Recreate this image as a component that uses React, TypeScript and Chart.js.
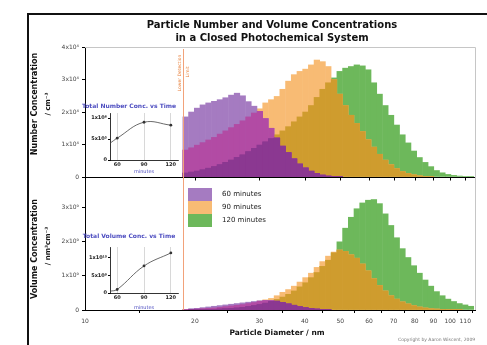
import React, { useEffect, useRef } from 'react';
import { Chart, registerables } from 'chart.js';

Chart.register(...registerables);

const FONT = 'DejaVu Sans';
Chart.defaults.font.family = FONT;

// ---- data ----
const seriesNames = ['60 minutes', '90 minutes', '120 minutes'];

const diameters = [18.87, 19.56, 20.28, 21.02, 21.79, 22.59, 23.42, 24.27, 25.16, 26.08, 27.04, 28.03, 29.06, 30.12, 31.22, 32.37, 33.55, 34.78, 36.06, 37.38, 38.75, 40.17, 41.64, 43.16, 44.74, 46.38, 48.08, 49.84, 51.67, 53.56, 55.52, 57.56, 59.67, 61.85, 64.12, 66.47, 68.9, 71.42, 74.04, 76.75, 79.56, 82.48, 85.5, 88.63, 91.88, 95.24, 98.73, 102.35, 106.1, 109.98, 114.01];

// number concentration, units of 1x10^4 cm^-3
const number60 = [1.85, 2.0, 2.12, 2.22, 2.28, 2.33, 2.38, 2.44, 2.52, 2.58, 2.5, 2.32, 2.18, 2.02, 1.8, 1.5, 1.2, 0.95, 0.75, 0.56, 0.4, 0.28, 0.18, 0.11, 0.06, 0.03, 0.02, 0.01, 0, 0, 0, 0, 0, 0, 0, 0, 0, 0, 0, 0, 0, 0, 0, 0, 0, 0, 0, 0, 0, 0, 0];
const number90 = [0.83, 0.9, 0.98, 1.06, 1.14, 1.22, 1.32, 1.42, 1.52, 1.62, 1.73, 1.85, 1.97, 2.1, 2.28, 2.38, 2.48, 2.7, 2.95, 3.15, 3.25, 3.32, 3.45, 3.6, 3.55, 3.4, 3.0, 2.55, 2.2, 1.9, 1.65, 1.4, 1.15, 0.92, 0.7, 0.52, 0.38, 0.26, 0.17, 0.11, 0.07, 0.04, 0.02, 0.01, 0, 0, 0, 0, 0, 0, 0];
const number120 = [0.12, 0.15, 0.18, 0.22, 0.27, 0.32, 0.38, 0.45, 0.52, 0.6, 0.68, 0.78, 0.88, 0.98, 1.08, 1.18, 1.3, 1.42, 1.55, 1.7, 1.85, 2.0, 2.2, 2.45, 2.7, 2.9, 3.05, 3.25, 3.35, 3.4, 3.45, 3.42, 3.3, 2.9, 2.55, 2.2, 1.9, 1.6, 1.3, 1.05, 0.8, 0.6, 0.45, 0.32, 0.2, 0.13, 0.08, 0.05, 0.03, 0.02, 0.01];

// volume concentration, units of 1x10^9 nm^3 cm^-3
const volume60 = [0.02, 0.04, 0.05, 0.07, 0.09, 0.11, 0.13, 0.15, 0.17, 0.19, 0.21, 0.23, 0.25, 0.27, 0.28, 0.28, 0.26, 0.22, 0.18, 0.14, 0.1, 0.07, 0.05, 0.03, 0.02, 0.01, 0, 0, 0, 0, 0, 0, 0, 0, 0, 0, 0, 0, 0, 0, 0, 0, 0, 0, 0, 0, 0, 0, 0, 0, 0];
const volume90 = [0.01, 0.02, 0.03, 0.04, 0.05, 0.06, 0.08, 0.1, 0.12, 0.14, 0.16, 0.19, 0.22, 0.26, 0.3, 0.34, 0.42, 0.52, 0.6, 0.7, 0.82, 0.95, 1.08, 1.25, 1.42, 1.58, 1.7, 1.76, 1.72, 1.62, 1.52, 1.35, 1.15, 0.92, 0.72, 0.56, 0.42, 0.32, 0.24, 0.18, 0.13, 0.09, 0.06, 0.04, 0.03, 0.02, 0.01, 0.01, 0.01, 0, 0];
const volume120 = [0, 0.01, 0.01, 0.01, 0.02, 0.02, 0.03, 0.04, 0.05, 0.06, 0.08, 0.1, 0.13, 0.16, 0.2, 0.25, 0.31, 0.38, 0.46, 0.56, 0.68, 0.8, 0.95, 1.1, 1.28, 1.46, 1.68, 2.0, 2.4, 2.72, 2.97, 3.14, 3.22, 3.24, 3.12, 2.82, 2.48, 2.12, 1.8, 1.54, 1.3, 1.08, 0.88, 0.7, 0.54, 0.42, 0.32, 0.25, 0.19, 0.15, 0.11];

const xTickValues = [10, 20, 30, 40, 50, 60, 70, 80, 90, 100, 110];
const numberTickValues = [0, 1, 2, 3, 4];
const numberTickLabels = ['0', '1x10⁴', '2x10⁴', '3x10⁴', '4x10⁴'];
const volumeTickValues = [0, 1, 2, 3];
const volumeTickLabels = ['0', '1x10⁹', '2x10⁹', '3x10⁹'];
const detectionLimit = 18.54;

// inset data
const insetMinutes = [52, 60, 90, 120];
const markerMinutes = [60, 90, 120];
const totalNumber = [0.4, 0.52, 0.9, 0.83]; // x10^6
const totalVolume = [0.05, 0.1, 0.77, 1.14]; // x10^10
const insetNumberTicks = [0, 0.5, 1];
const insetNumberLabels = ['0', '5x10⁵', '1x10⁶'];
const insetVolumeTicks = [0, 0.5, 1];
const insetVolumeLabels = ['0', '5x10⁹', '1x10¹⁰'];

// ---- styles ----
const COL = {
  purple: '#a57bc1',
  orange: '#f8bb74',
  green: '#6db85b',
  magenta: '#b24ba4',
  gold: '#cf9c2e',
  dark: '#8b3891',
};
const INSET_BLUE = '#4d4dc0';

const minOf = (...arrs: number[][]) => arrs[0].map((_, i) => Math.min(...arrs.map((a) => a[i])));

function panelLayers(p: number[], o: number[], g: number[], axis: string) {
  const layers = [
    { vals: minOf(p, o, g), color: COL.dark, order: 0, label: 'all' },
    { vals: minOf(p, g), color: COL.dark, order: 1, label: 'p+g' },
    { vals: minOf(p, o), color: COL.magenta, order: 1, label: 'p+o' },
    { vals: minOf(o, g), color: COL.gold, order: 1, label: 'o+g' },
    { vals: p, color: COL.purple, order: 2, label: seriesNames[0] },
    { vals: o, color: COL.orange, order: 2, label: seriesNames[1] },
    { vals: g, color: COL.green, order: 2, label: seriesNames[2] },
  ];
  return layers.map((l) => ({
    type: 'bar' as const,
    label: l.label,
    data: l.vals.map((v, i) => ({ x: diameters[i], y: v > 0 ? v : null })),
    backgroundColor: l.color,
    yAxisID: axis,
    order: l.order,
    grouped: false,
    barPercentage: 1,
    categoryPercentage: 1,
    borderWidth: 0,
    inflateAmount: 0.3,
  }));
}

function rotText(ctx: CanvasRenderingContext2D, text: string, x: number, y: number, font: string, color: string) {
  ctx.save();
  ctx.translate(x, y);
  ctx.rotate(-Math.PI / 2);
  ctx.font = font;
  ctx.fillStyle = color;
  ctx.textAlign = 'center';
  ctx.textBaseline = 'middle';
  ctx.fillText(text, 0, 0);
  ctx.restore();
}

const decorPlugin = {
  id: 'decor',
  afterDraw(chart: any) {
    const { ctx, chartArea: ca, scales } = chart;
    const xs = scales.x;
    const yT = scales.yTop;
    ctx.save();
    // outer frame
    ctx.strokeStyle = '#111';
    ctx.lineWidth = 2;
    ctx.strokeRect(28, 14, 480, 360);
    // light panel frame (top & right)
    ctx.strokeStyle = '#c6c6c6';
    ctx.lineWidth = 1;
    ctx.beginPath();
    ctx.moveTo(ca.left, Math.round(ca.top) + 0.5);
    ctx.lineTo(Math.round(ca.right) + 0.5, Math.round(ca.top) + 0.5);
    ctx.lineTo(Math.round(ca.right) + 0.5, ca.bottom);
    ctx.stroke();
    // top panel baseline with ticks
    const y0 = Math.round(yT.bottom) + 0.5;
    ctx.strokeStyle = '#000';
    ctx.beginPath();
    ctx.moveTo(ca.left, y0);
    ctx.lineTo(ca.right, y0);
    for (const t of xTickValues) {
      const px = Math.round(xs.getPixelForValue(t)) + 0.5;
      ctx.moveTo(px, y0);
      ctx.lineTo(px, y0 + 3);
    }
    ctx.stroke();
    // detection limit line
    const dx = Math.round(xs.getPixelForValue(detectionLimit)) + 0.5;
    ctx.strokeStyle = '#f2a27a';
    ctx.beginPath();
    ctx.moveTo(dx, ca.top + 2);
    ctx.lineTo(dx, ca.bottom);
    ctx.stroke();
    rotText(ctx, 'Lower Detection', dx - 4, 73, `4.5px ${FONT}`, '#e8803c');
    rotText(ctx, 'Limit', dx + 4, 72, `4.5px ${FONT}`, '#e8803c');
    // title
    ctx.fillStyle = '#111';
    ctx.font = `bold 10px ${FONT}`;
    ctx.textAlign = 'center';
    ctx.textBaseline = 'middle';
    ctx.fillText('Particle Number and Volume Concentrations', 272, 25);
    ctx.fillText('in a Closed Photochemical System', 272, 38);
    // axis titles
    rotText(ctx, 'Number Concentration', 35, 104, `bold 8px ${FONT}`, '#111');
    rotText(ctx, '/ cm⁻³', 48, 104, `bold 7px ${FONT}`, '#111');
    rotText(ctx, 'Volume Concentration', 35, 249, `bold 8px ${FONT}`, '#111');
    rotText(ctx, '/ nm³cm⁻³', 48, 246, `bold 7px ${FONT}`, '#111');
    ctx.fillStyle = '#111';
    ctx.font = `bold 7.5px ${FONT}`;
    ctx.textAlign = 'center';
    ctx.fillText('Particle Diameter / nm', 277, 333);
    // legend
    const legendColors = [COL.purple, COL.orange, COL.green];
    ctx.font = `7px ${FONT}`;
    ctx.textAlign = 'left';
    seriesNames.forEach((name, i) => {
      const top = 188 + i * 13;
      ctx.fillStyle = legendColors[i];
      ctx.fillRect(188, top, 24, 13);
      ctx.fillStyle = '#222';
      ctx.fillText(name, 222, top + 6.5);
    });
    // copyright
    ctx.fillStyle = '#777';
    ctx.font = `4.5px ${FONT}`;
    ctx.fillText('Copyright by Aaron Wiscent, 2009', 398, 340);
    ctx.restore();
  },
};

function mainConfig(): any {
  const yCommon = {
    type: 'linear',
    position: 'left',
    stack: 'panels',
    afterFit: (s: any) => {
      s.width = 85;
    },
    grid: { drawOnChartArea: false, tickLength: 3, color: '#000' },
    border: { color: '#000', width: 1 },
  };
  return {
    type: 'bar',
    data: {
      datasets: [
        ...panelLayers(number60, number90, number120, 'yTop'),
        ...panelLayers(volume60, volume90, volume120, 'yBot'),
      ],
    },
    options: {
      animation: false,
      responsive: false,
      maintainAspectRatio: false,
      events: [],
      layout: { padding: { left: 0, right: 12, top: 47, bottom: 0 } },
      plugins: { legend: { display: false }, tooltip: { enabled: false }, title: { display: false } },
      scales: {
        x: {
          type: 'logarithmic',
          min: 10,
          max: 117,
          afterBuildTicks: (s: any) => {
            s.ticks = xTickValues.map((v) => ({ value: v }));
          },
          afterFit: (s: any) => {
            s.height = 35;
          },
          grid: { drawOnChartArea: false, tickLength: 3, color: '#000' },
          border: { color: '#000', width: 1 },
          ticks: { autoSkip: false, maxRotation: 0, padding: 5, color: '#444', font: { size: 6 }, callback: (v: any) => String(v) },
        },
        yTop: {
          ...yCommon,
          stackWeight: 130,
          weight: 2,
          min: 0,
          max: 4,
          afterBuildTicks: (s: any) => {
            s.ticks = numberTickValues.map((v) => ({ value: v }));
          },
          ticks: { padding: 3, color: '#444', font: { size: 6 }, callback: (v: any) => numberTickLabels[numberTickValues.indexOf(v)] ?? '' },
        },
        yBot: {
          ...yCommon,
          stackWeight: 133,
          weight: 1,
          min: 0,
          max: 3.9,
          afterBuildTicks: (s: any) => {
            s.ticks = volumeTickValues.map((v) => ({ value: v }));
          },
          ticks: { padding: 3, color: '#444', font: { size: 6 }, callback: (v: any) => volumeTickLabels[volumeTickValues.indexOf(v)] ?? '' },
        },
      },
    },
    plugins: [decorPlugin],
  };
}

function insetConfig(
  title: string,
  values: number[],
  yMax: number,
  yTicks: number[],
  yLabels: string[],
  titlePadBottom: number,
  axisHeight: number,
  minutesPad: number
): any {
  return {
    type: 'line',
    data: {
      datasets: [
        {
          data: insetMinutes.map((m, i) => ({ x: m, y: values[i] })),
          borderColor: '#444',
          borderWidth: 0.8,
          tension: 0.4,
          pointRadius: insetMinutes.map((m) => (markerMinutes.includes(m) ? 1.4 : 0)),
          pointBackgroundColor: '#333',
          pointBorderWidth: 0,
        },
      ],
    },
    options: {
      animation: false,
      responsive: false,
      maintainAspectRatio: false,
      events: [],
      layout: { padding: { left: 0, right: 4, top: 0, bottom: 0 } },
      plugins: {
        legend: { display: false },
        tooltip: { enabled: false },
        title: {
          display: true,
          text: title,
          color: INSET_BLUE,
          font: { size: 6, lineHeight: 1, family: FONT },
          padding: { top: 4, bottom: titlePadBottom },
        },
      },
      scales: {
        x: {
          type: 'linear',
          min: 52,
          max: 128,
          afterBuildTicks: (s: any) => {
            s.ticks = markerMinutes.map((v) => ({ value: v }));
          },
          afterFit: (s: any) => {
            s.height = axisHeight;
          },
          grid: { color: '#bdbdbd', lineWidth: 0.6, drawTicks: false },
          border: { color: '#000', width: 0.8 },
          ticks: { autoSkip: false, maxRotation: 0, padding: 2, color: '#222', font: { size: 5, weight: 'bold' } },
          title: { display: true, text: 'minutes', color: INSET_BLUE, font: { size: 5, lineHeight: 1 }, padding: { top: 0, bottom: minutesPad } },
        },
        y: {
          min: 0,
          max: yMax,
          afterBuildTicks: (s: any) => {
            s.ticks = yTicks.map((v) => ({ value: v }));
          },
          afterFit: (s: any) => {
            s.width = 30;
          },
          grid: { drawOnChartArea: false, tickLength: 2, color: '#000' },
          border: { color: '#000', width: 0.8 },
          ticks: { padding: 1, color: '#222', font: { size: 5, weight: 'bold' }, callback: (v: any) => yLabels[yTicks.indexOf(v)] ?? '' },
        },
      },
    },
  };
}

export default function App() {
  const mainRef = useRef<HTMLCanvasElement>(null);
  const insetNRef = useRef<HTMLCanvasElement>(null);
  const insetVRef = useRef<HTMLCanvasElement>(null);

  useEffect(() => {
    const charts: Chart[] = [];
    charts.push(new Chart(mainRef.current as HTMLCanvasElement, mainConfig()));
    charts.push(
      new Chart(
        insetNRef.current as HTMLCanvasElement,
        insetConfig('Total Number Conc. vs Time', totalNumber, 1.12, insetNumberTicks, insetNumberLabels, 4, 19, 5)
      )
    );
    charts.push(
      new Chart(
        insetVRef.current as HTMLCanvasElement,
        insetConfig('Total Volume Conc. vs Time', totalVolume, 1.31, insetVolumeTicks, insetVolumeLabels, 8, 20, 3)
      )
    );
    return () => charts.forEach((c) => c.destroy());
  }, []);

  return (
    <div style={{ position: 'fixed', left: 0, top: 0, width: 487, height: 345, background: '#fff', overflow: 'hidden' }}>
      <canvas ref={mainRef} width={487} height={345} style={{ position: 'absolute', left: 0, top: 0 }} />
      <canvas ref={insetNRef} width={102} height={80} style={{ position: 'absolute', left: 80, top: 99 }} />
      <canvas ref={insetVRef} width={102} height={84} style={{ position: 'absolute', left: 80, top: 229 }} />
    </div>
  );
}
